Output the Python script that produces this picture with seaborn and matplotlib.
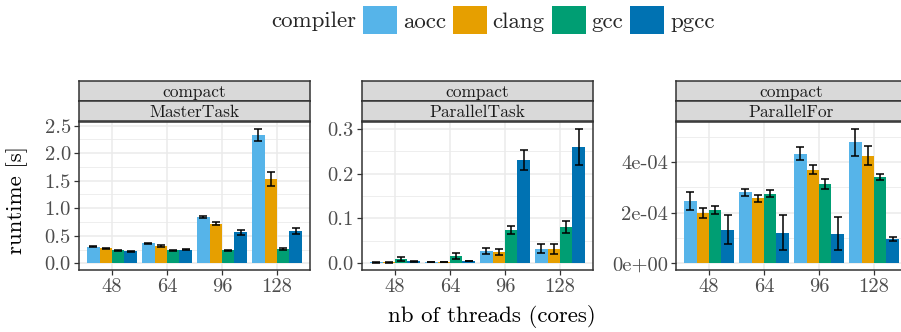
import numpy as np
import pandas as pd
import matplotlib
matplotlib.use("Agg")
import matplotlib.pyplot as plt
from matplotlib.ticker import FixedLocator, FixedFormatter
from matplotlib.patches import Patch
import seaborn as sns

threads = ["48", "64", "96", "128"]
compilers = ["aocc", "clang", "gcc", "pgcc"]
colors = ["#56B4E9", "#E69F00", "#009E73", "#0072B2"]
benchmarks = ["MasterTask", "ParallelTask", "ParallelFor"]

# mean runtimes [s], one list per compiler, ordered by threads
master_mean = {
    "aocc": [0.30, 0.36, 0.84, 2.33],
    "clang": [0.27, 0.32, 0.72, 1.53],
    "gcc": [0.24, 0.24, 0.24, 0.26],
    "pgcc": [0.22, 0.25, 0.56, 0.59],
}
master_err = {
    "aocc": [0.01, 0.01, 0.02, 0.115],
    "clang": [0.01, 0.02, 0.03, 0.12],
    "gcc": [0.01, 0.01, 0.01, 0.01],
    "pgcc": [0.01, 0.01, 0.05, 0.055],
}
ptask_mean = {
    "aocc": [0.002, 0.003, 0.027, 0.032],
    "clang": [0.002, 0.003, 0.025, 0.032],
    "gcc": [0.009, 0.016, 0.074, 0.081],
    "pgcc": [0.004, 0.005, 0.230, 0.260],
}
ptask_err = {
    "aocc": [0.0005, 0.0005, 0.007, 0.010],
    "clang": [0.0005, 0.0005, 0.007, 0.011],
    "gcc": [0.004, 0.006, 0.009, 0.013],
    "pgcc": [0.001, 0.001, 0.022, 0.040],
}
pfor_mean = {
    "aocc": [2.47e-4, 2.80e-4, 4.33e-4, 4.77e-4],
    "clang": [1.97e-4, 2.56e-4, 3.70e-4, 4.25e-4],
    "gcc": [2.11e-4, 2.75e-4, 3.14e-4, 3.42e-4],
    "pgcc": [1.32e-4, 1.20e-4, 1.16e-4, 0.96e-4],
}
pfor_err = {
    "aocc": [0.35e-4, 0.15e-4, 0.25e-4, 0.54e-4],
    "clang": [0.20e-4, 0.13e-4, 0.18e-4, 0.36e-4],
    "gcc": [0.17e-4, 0.15e-4, 0.19e-4, 0.12e-4],
    "pgcc": [0.57e-4, 0.69e-4, 0.65e-4, 0.08e-4],
}

yticks = {
    "MasterTask": ([0, 0.5, 1.0, 1.5, 2.0, 2.5], ["0.0", "0.5", "1.0", "1.5", "2.0", "2.5"]),
    "ParallelTask": ([0, 0.1, 0.2, 0.3], ["0.0", "0.1", "0.2", "0.3"]),
    "ParallelFor": ([0, 2e-4, 4e-4], ["0e+00", "2e-04", "4e-04"]),
}

sns.set_theme(style="white")
plt.rcParams["font.family"] = ["cmr10", "DejaVu Serif"]
plt.rcParams["axes.formatter.use_mathtext"] = True

rows = []
for bench, means, errs in [("MasterTask", master_mean, master_err),
                           ("ParallelTask", ptask_mean, ptask_err),
                           ("ParallelFor", pfor_mean, pfor_err)]:
    for c in compilers:
        for i, t in enumerate(threads):
            rows.append(dict(benchmark=bench, compiler=c, threads=t,
                             runtime=means[c][i], err=errs[c][i]))
df = pd.DataFrame(rows)

W, H = 9.01, 3.32
fig = plt.figure(figsize=(W, H), dpi=100)

panel_left = [79, 362, 676]
panel_w = 231
ax_top, ax_bot = 122, 270
strip_h = 20

grid_col = "#EBEBEB"
border_col = "#333333"
tick_col = "#4D4D4D"

for k, bench in enumerate(benchmarks):
    l = panel_left[k]
    ax = fig.add_axes([l / 901, (332 - ax_bot) / 332, panel_w / 901, (ax_bot - ax_top) / 332])
    sub = df[df.benchmark == bench]
    sns.barplot(data=sub, x="threads", y="runtime", hue="compiler", order=threads,
                hue_order=compilers, palette=colors, width=0.9, gap=0,
                errorbar=None, legend=False, ax=ax, saturation=1, zorder=3,
                linewidth=0)
    bar_conts = list(ax.containers)
    for ci, cont in enumerate(bar_conts):
        c = compilers[ci]
        for ti, bar in enumerate(cont):
            e = sub[(sub.compiler == c) & (sub.threads == threads[ti])]["err"].iloc[0]
            ax.errorbar(bar.get_x() + bar.get_width() / 2, bar.get_height(), yerr=e,
                        fmt="none", ecolor="black", elinewidth=1.1, capsize=3.2,
                        capthick=1.1, zorder=5)
    ax.set_xlim(-0.6, 3.6)
    tv, tl = yticks[bench]
    allmax = (sub.runtime + sub.err).max()
    ax.set_ylim(-0.05 * allmax, allmax * 1.05)
    ax.yaxis.set_major_locator(FixedLocator(tv))
    ax.yaxis.set_major_formatter(FixedFormatter(tl))
    step = tv[1] - tv[0]
    minors = [v + step / 2 for v in tv] + [tv[0] - step / 2]
    ax.yaxis.set_minor_locator(FixedLocator(minors))
    ax.grid(True, which="major", color=grid_col, linewidth=1.1, zorder=0)
    ax.grid(True, which="minor", axis="y", color=grid_col, linewidth=0.6, zorder=0)
    ax.set_axisbelow(True)
    for s in ax.spines.values():
        s.set_color(border_col)
        s.set_linewidth(1.1)
        s.set_visible(True)
    ax.tick_params(axis="both", which="major", length=3.8, width=0.9, color=border_col,
                   labelcolor=tick_col, labelsize=14.8, pad=2, direction="out",
                   bottom=True, left=True)
    ax.tick_params(axis="y", which="minor", length=0)
    ax.set_xlabel("")
    ax.set_ylabel("")

    # strips
    for j, lab in enumerate(["compact", bench]):
        top = 81 + j * strip_h
        sax = fig.add_axes([l / 901, (332 - top - strip_h) / 332, panel_w / 901, strip_h / 332])
        sax.set_facecolor("#D9D9D9")
        sax.set_xticks([])
        sax.set_yticks([])
        for s in sax.spines.values():
            s.set_color(border_col)
            s.set_linewidth(1.1)
        sax.text(0.5, 0.42, lab, ha="center", va="center", fontsize=12.5,
                 color="#1A1A1A", transform=sax.transAxes)

fig.text(17 / 901, 1 - 200 / 332, "runtime [s]", rotation=90, ha="center", va="center",
         fontsize=16.5, color="black")
fig.text(492 / 901, 1 - 316 / 332, "nb of threads (cores)", ha="center", va="center",
         fontsize=16.5, color="black")

# legend
fig.text(356 / 901, 1 - 21 / 332, "compiler", ha="right", va="center", fontsize=16.5)
handles = [Patch(facecolor=col, edgecolor="none") for col in colors]
leg = fig.legend(handles, compilers, loc="center left", bbox_to_anchor=(363 / 901, 1 - 20 / 332),
                 ncol=4, frameon=False, fontsize=16.5, handlelength=1.48, handleheight=1.48,
                 handletextpad=0.26, columnspacing=0.3, borderpad=0, borderaxespad=0)

fig.savefig("out.png", dpi=100)
